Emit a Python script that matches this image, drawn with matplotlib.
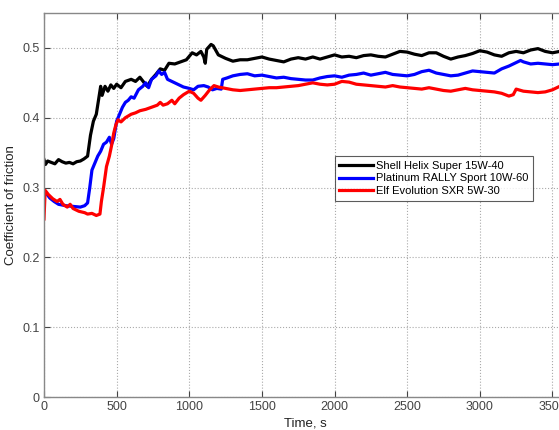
import matplotlib
matplotlib.use("Agg")
import matplotlib.pyplot as plt

plt.rcParams['font.family'] = ['Liberation Sans', 'DejaVu Sans']

t_shell = [0, 10, 25, 50, 75, 100, 125, 150, 175, 200, 225, 250, 275, 300, 320, 340, 360, 375, 390, 400,
           420, 440, 460, 480, 500, 530, 560, 600, 630, 660, 690, 710, 740, 770, 800, 830, 860, 900, 940, 980,
           1020, 1050, 1080, 1100, 1110, 1120, 1150, 1165, 1200, 1250, 1300, 1350, 1400, 1450, 1500, 1550,
           1600, 1650, 1700, 1750, 1800, 1850, 1900, 1950, 2000, 2050, 2100, 2150, 2200, 2250, 2300, 2350,
           2400, 2450, 2500, 2550, 2600, 2650, 2700, 2750, 2800, 2850, 2900, 2950, 3000, 3050, 3100, 3150,
           3200, 3250, 3300, 3350, 3400, 3450, 3500, 3550, 3600]
v_shell = [0.340, 0.333, 0.338, 0.336, 0.334, 0.340, 0.337, 0.335, 0.336, 0.334, 0.337, 0.338, 0.341, 0.345,
           0.375, 0.395, 0.405, 0.425, 0.445, 0.432, 0.445, 0.438, 0.447, 0.442, 0.448, 0.443, 0.452, 0.455,
           0.452, 0.458, 0.450, 0.445, 0.455, 0.462, 0.470, 0.468, 0.478, 0.477, 0.480, 0.483, 0.493, 0.490,
           0.495, 0.487, 0.478, 0.498, 0.505, 0.503, 0.490, 0.485, 0.481, 0.483, 0.483, 0.485, 0.487, 0.484,
           0.482, 0.480, 0.484, 0.486, 0.484, 0.487, 0.484, 0.487, 0.490, 0.487, 0.488, 0.486, 0.489, 0.490,
           0.488, 0.487, 0.491, 0.495, 0.494, 0.491, 0.489, 0.493, 0.493, 0.488, 0.484, 0.487, 0.489, 0.492,
           0.496, 0.494, 0.490, 0.488, 0.493, 0.495, 0.493, 0.497, 0.499, 0.495, 0.493, 0.495, 0.495]

t_plat = [0, 15, 40, 70, 100, 150, 200, 250, 280, 300, 315, 330, 350, 370, 390, 410, 430, 450, 465, 480,
          500, 520, 540, 560, 580, 600, 620, 650, 680, 700, 720, 740, 770, 790, 810, 830, 850, 880, 900, 930,
          960, 1000, 1030, 1060, 1100, 1130, 1160, 1190, 1220, 1230, 1260, 1300, 1350, 1400, 1450, 1500, 1550,
          1600, 1650, 1700, 1750, 1800, 1850, 1900, 1950, 2000, 2050, 2100, 2150, 2200, 2250, 2300, 2350,
          2400, 2450, 2500, 2550, 2600, 2650, 2700, 2750, 2800, 2850, 2900, 2950, 3000, 3050, 3100, 3150,
          3200, 3250, 3280, 3300, 3350, 3400, 3450, 3500, 3550, 3600]
v_plat = [0.295, 0.292, 0.285, 0.280, 0.276, 0.274, 0.273, 0.272, 0.274, 0.278, 0.300, 0.325, 0.335, 0.345,
          0.352, 0.362, 0.365, 0.372, 0.362, 0.370, 0.395, 0.405, 0.415, 0.422, 0.425, 0.430, 0.428, 0.440,
          0.445, 0.450, 0.443, 0.455, 0.460, 0.467, 0.462, 0.465, 0.455, 0.452, 0.450, 0.447, 0.444, 0.442,
          0.440, 0.445, 0.446, 0.444, 0.440, 0.442, 0.441, 0.455, 0.457, 0.460, 0.462, 0.463, 0.460, 0.461,
          0.459, 0.457, 0.458, 0.456, 0.455, 0.454, 0.454, 0.457, 0.459, 0.460, 0.458, 0.461, 0.462, 0.464,
          0.461, 0.463, 0.465, 0.462, 0.461, 0.460, 0.462, 0.466, 0.468, 0.464, 0.462, 0.460, 0.461, 0.464,
          0.467, 0.466, 0.465, 0.464, 0.470, 0.474, 0.479, 0.482, 0.480, 0.477, 0.478, 0.477, 0.476, 0.477,
          0.477]

t_elf = [0, 8, 30, 60, 90, 110, 130, 160, 180, 200, 240, 280, 300, 330, 360, 385, 395, 410, 430, 450, 465,
         480, 495, 510, 530, 560, 600, 630, 660, 700, 740, 780, 800, 820, 850, 880, 900, 930, 960, 1000, 1030,
         1060, 1080, 1110, 1140, 1170, 1200, 1250, 1300, 1350, 1400, 1450, 1500, 1550, 1600, 1650, 1700, 1750,
         1800, 1850, 1900, 1950, 2000, 2050, 2100, 2150, 2200, 2250, 2300, 2350, 2400, 2450, 2500, 2550, 2600,
         2650, 2700, 2750, 2800, 2850, 2900, 2950, 3000, 3050, 3100, 3150, 3200, 3230, 3250, 3300, 3350, 3400,
         3450, 3500, 3550, 3600]
v_elf = [0.255, 0.296, 0.290, 0.284, 0.280, 0.283, 0.276, 0.272, 0.276, 0.270, 0.266, 0.264, 0.262, 0.263,
         0.260, 0.262, 0.280, 0.300, 0.330, 0.345, 0.360, 0.378, 0.390, 0.397, 0.394, 0.400, 0.405, 0.407,
         0.410, 0.412, 0.415, 0.418, 0.422, 0.418, 0.420, 0.425, 0.420, 0.428, 0.433, 0.438, 0.435, 0.428,
         0.425, 0.432, 0.440, 0.446, 0.444, 0.442, 0.440, 0.439, 0.440, 0.441, 0.442, 0.443, 0.443, 0.444,
         0.445, 0.446, 0.448, 0.450, 0.448, 0.447, 0.448, 0.452, 0.451, 0.448, 0.447, 0.446, 0.445, 0.444,
         0.446, 0.444, 0.443, 0.442, 0.441, 0.443, 0.441, 0.439, 0.438, 0.440, 0.442, 0.440, 0.439, 0.438,
         0.437, 0.435, 0.431, 0.433, 0.441, 0.438, 0.437, 0.436, 0.437, 0.440, 0.445, 0.445]

labels = ['Shell Helix Super 15W-40', 'Platinum RALLY Sport 10W-60', 'Elf Evolution SXR 5W-30']
colors = ['black', '#0000ff', '#ff0000']
x_ticks = [0, 500, 1000, 1500, 2000, 2500, 3000, 3500]
y_ticks = [0, 0.1, 0.2, 0.3, 0.4, 0.5]

W, H = 559, 430
fig = plt.figure(figsize=(W / 100, H / 100), dpi=100)
ax = fig.add_axes([44 / W, 33 / H, 523 / W, 384 / H])

for t, v, lab, c in zip([t_shell, t_plat, t_elf], [v_shell, v_plat, v_elf], labels, colors):
    ax.plot(t, v, color=c, lw=2.3, label=lab)

ax.set_xlim(0, 3600)
ax.set_ylim(0, 0.55)
ax.set_xticks(x_ticks)
ax.set_yticks(y_ticks)
ax.set_yticklabels(['0', '0.1', '0.2', '0.3', '0.4', '0.5'])
ax.tick_params(direction='in', length=4, labelsize=9, colors='#444444', top=True, right=True, pad=3)
ax.grid(True, linestyle=':', color='#aaaaaa', lw=0.8)
for s in ax.spines.values():
    s.set_color('#888888')
    s.set_linewidth(1.0)

ax.set_xlabel('Time, s', fontsize=9.5, color='#222222', labelpad=3)
ax.set_ylabel('Coefficient of friction', fontsize=9.5, color='#222222', labelpad=4)

leg = ax.legend(loc='upper left', bbox_to_anchor=(0.556, 0.627), fontsize=8, frameon=True,
                fancybox=False, edgecolor='#333333', handlelength=3.0, borderpad=0.4,
                labelspacing=0.25, handletextpad=0.3, borderaxespad=0)
leg.get_frame().set_linewidth(0.8)

fig.savefig('out.png', dpi=100)
